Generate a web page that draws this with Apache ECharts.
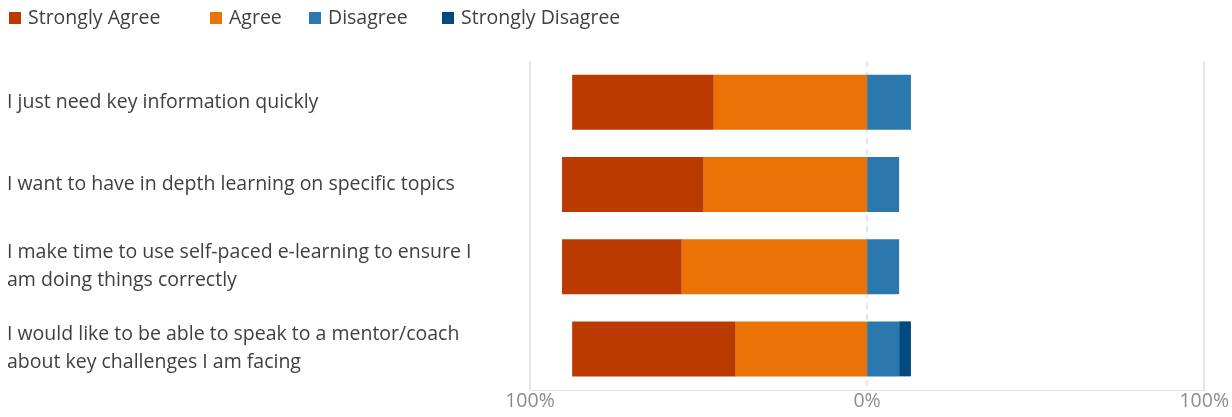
<!DOCTYPE html>
<html lang="en">
<head>
    <meta charset="UTF-8">
    <script src="https://cdn.jsdelivr.net/npm/echarts@6/dist/echarts.min.js"></script>
    <style>
        html, body { margin: 0; padding: 0; background: #fff; }
        #chart { width: 1232px; height: 417px; }
    </style>
</head>
<body>
<div id="chart"></div>
<script>
    // survey statements, top to bottom
    var statements = [
        'I just need key information quickly',
        'I want to have in depth learning on specific topics',
        'I make time to use self-paced e-learning to ensure I am doing things correctly',
        'I would like to be able to speak to a mentor/coach about key challenges I am facing'
    ];
    var legendNames = ['Strongly Agree', 'Agree', 'Disagree', 'Strongly Disagree'];
    // percentages; agree side drawn to the left of 0
    var stronglyAgree = [42, 42, 35.5, 48.5];
    var agree = [45.5, 48.5, 55, 39];
    var disagree = [13, 9.5, 9.5, 9.5];
    var stronglyDisagree = [0, 0, 0, 3.5];
    var tickValues = [-100, 0, 100];

    var colors = {
        sa: '#bb3a02',
        a: '#ea7207',
        d: '#2b78ae',
        sd: '#014a81'
    };
    var font = '"Open Sans", "Noto Sans", sans-serif';
    var legendLeft = [4, 205, 304, 437];

    var chart = echarts.init(document.getElementById('chart'));

    function neg(arr) {
        return arr.map(function (v) { return -v; });
    }

    // one legend per item so the spacing matches the original
    var legends = legendNames.map(function (name, i) {
        return {
            left: legendLeft[i],
            top: 3,
            icon: 'rect',
            itemWidth: 12,
            itemHeight: 12,
            data: [name],
            textStyle: { fontFamily: font, fontSize: 19.5, color: '#404040', padding: [0, 0, 0, 2] }
        };
    });

    var option = {
        animation: false,
        legend: legends,
        grid: { left: 530, right: 26, top: 61, bottom: 27 },
        xAxis: [{
            type: 'value',
            min: tickValues[0],
            max: tickValues[2],
            interval: 100,
            axisLine: { show: true, lineStyle: { color: '#e2e2e2' } },
            axisTick: { show: false },
            splitLine: {
                show: true,
                lineStyle: { color: ['#e6e6e6', 'rgba(0,0,0,0)', '#e6e6e6'], width: 2 }
            },
            axisLabel: {
                fontFamily: font,
                fontSize: 19.5,
                color: '#8c8c8c',
                margin: 1,
                formatter: function (v) { return Math.abs(v) + '%'; }
            }
        }, {
            // dashed zero line only
            type: 'value',
            min: tickValues[0],
            max: tickValues[2],
            interval: 100,
            position: 'bottom',
            axisLine: { show: false },
            axisTick: { show: false },
            axisLabel: { show: false },
            splitLine: {
                show: true,
                lineStyle: { color: ['rgba(0,0,0,0)', '#dedede', 'rgba(0,0,0,0)'], type: [6, 5], width: 1.5 }
            }
        }],
        yAxis: {
            type: 'category',
            inverse: true,
            data: statements,
            axisLine: { show: false },
            axisTick: { show: false },
            axisLabel: {
                align: 'left',
                margin: 523,
                width: 482,
                overflow: 'break',
                lineHeight: 28,
                fontFamily: font,
                fontSize: 19.5,
                color: '#404040'
            }
        },
        series: [
            {
                name: 'Agree', type: 'bar', stack: 'all', barWidth: 55,
                itemStyle: { color: colors.a }, data: neg(agree)
            },
            {
                name: 'Strongly Agree', type: 'bar', stack: 'all', barWidth: 55,
                itemStyle: { color: colors.sa }, data: neg(stronglyAgree)
            },
            {
                name: 'Disagree', type: 'bar', stack: 'all', barWidth: 55,
                itemStyle: { color: colors.d }, data: disagree
            },
            {
                name: 'Strongly Disagree', type: 'bar', stack: 'all', barWidth: 55,
                itemStyle: { color: colors.sd }, data: stronglyDisagree
            }
        ]
    };

    chart.setOption(option);
</script>
</body>
</html>
